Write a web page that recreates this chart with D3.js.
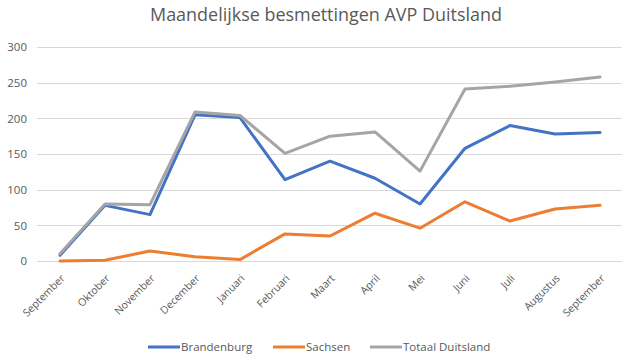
<!DOCTYPE html>
<html>
<head>
<meta charset="utf-8">
<script src="https://cdn.jsdelivr.net/npm/d3@7"></script>
<style>
  html, body { margin: 0; padding: 0; background: #fff; }
  svg { display: block; font-family: "Open Sans", "Liberation Sans", sans-serif; }
</style>
</head>
<body>
<svg id="chart" width="625" height="364"></svg>
<script>
const months = ["September","Oktober","November","December","Januari","Februari","Maart","April","Mei","Juni","Juli","Augustus","September"];
const brandenburg = [8, 78, 65, 205, 201, 114, 140, 116, 80, 158, 190, 178, 180];
const sachsen = [0, 1, 14, 6, 2, 38, 35, 67, 46, 83, 56, 73, 78];
const totaal = [10, 80, 79, 209, 204, 151, 175, 181, 126, 241, 245, 251, 258];
const yTicks = [0, 50, 100, 150, 200, 250, 300];
const seriesNames = ["Brandenburg", "Sachsen", "Totaal Duitsland"];
const colors = ["#4472C4", "#ED7D31", "#A5A5A5"];

const svg = d3.select("#chart");
const textColor = "#595959";

const x = d3.scalePoint().domain(d3.range(months.length)).range([37.5, 622.5]).padding(0.5);
const y = d3.scaleLinear().domain([0, 300]).range([261, 47]);

// title
svg.append("text")
  .attr("x", 326).attr("y", 21)
  .attr("text-anchor", "middle")
  .attr("fill", textColor)
  .attr("font-size", 18.5)
  .attr("textLength", 352)
  .attr("lengthAdjust", "spacingAndGlyphs")
  .text("Maandelijkse besmettingen AVP Duitsland");

// gridlines
svg.append("g").selectAll("line").data(yTicks).join("line")
  .attr("x1", 37).attr("x2", 622)
  .attr("y1", d => Math.round(y(d)) + 0.5).attr("y2", d => Math.round(y(d)) + 0.5)
  .attr("stroke", "#d9d9d9").attr("stroke-width", 1);

// y axis labels
const yAxis = d3.axisLeft(y).tickValues(yTicks).tickSize(0).tickPadding(0);
const gy = svg.append("g").attr("transform", "translate(27,0)").call(yAxis);
gy.select(".domain").remove();
gy.selectAll("text").attr("fill", textColor).attr("font-size", 11.5).attr("font-family", "Open Sans, sans-serif");

// x axis labels
const xAxis = d3.axisBottom(x).tickFormat(i => months[i]).tickSize(0).tickPadding(0);
const gx = svg.append("g").attr("transform", "translate(0,261)").call(xAxis);
gx.select(".domain").remove();
gx.selectAll("text")
  .attr("fill", textColor)
  .attr("font-size", 10.5)
  .attr("font-family", "Open Sans, sans-serif")
  .attr("text-anchor", "end")
  .attr("dy", null)
  .attr("y", 0)
  .attr("transform", "translate(5,18) rotate(-45)");

// lines
const line = d3.line().x((d, i) => x(i)).y(d => y(d));
const data = [brandenburg, sachsen, totaal];
svg.append("g").selectAll("path").data(data).join("path")
  .attr("d", d => line(d))
  .attr("fill", "none")
  .attr("stroke", (d, i) => colors[i])
  .attr("stroke-width", 3)
  .attr("stroke-linejoin", "round")
  .attr("stroke-linecap", "round");

// legend
const legendX = [148, 273, 370];
const lg = svg.append("g");
seriesNames.forEach((name, i) => {
  lg.append("line")
    .attr("x1", legendX[i]).attr("x2", legendX[i] + 32)
    .attr("y1", 347).attr("y2", 347)
    .attr("stroke", colors[i]).attr("stroke-width", 3);
  lg.append("text")
    .attr("x", legendX[i] + 33).attr("y", 351)
    .attr("fill", textColor)
    .attr("font-size", 11.5)
    .text(name);
});
</script>
</body>
</html>
